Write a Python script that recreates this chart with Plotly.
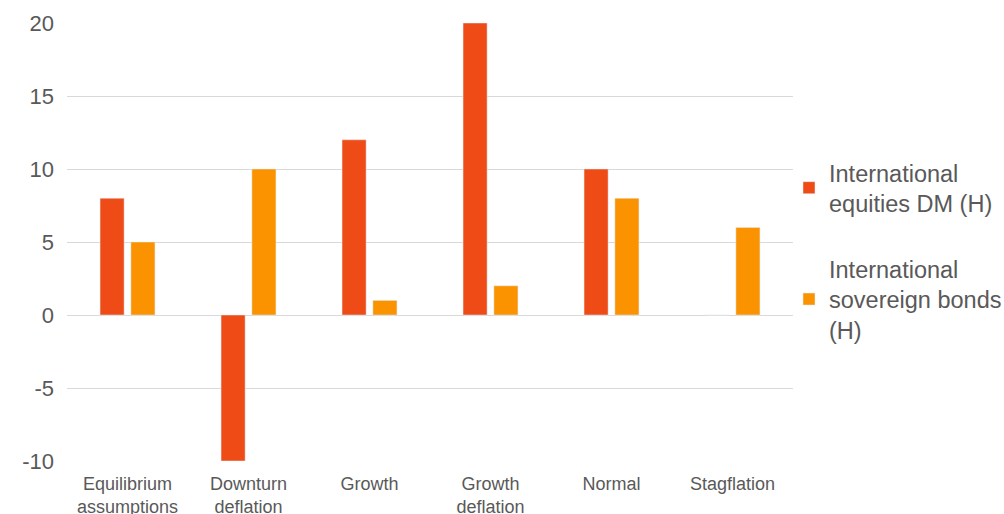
import plotly.graph_objects as go

categories = ["Equilibrium<br>assumptions", "Downturn<br>deflation", "Growth", "Growth<br>deflation", "Normal", "Stagflation"]
equities = [8, -10, 12, 20, 10, 0]
bonds = [5, 10, 1, 2, 8, 6]
series_names = ["International<br>equities DM (H)", "International<br>sovereign bonds<br>(H)"]
colors = ["#EE4B17", "#FB9300"]
y_ticks = [-10, -5, 0, 5, 10, 15, 20]
y_tick_text = ["-10", "-5", "0", "5", "10", "15", "20"]

fig = go.Figure()
fig.add_trace(go.Bar(x=categories, y=equities, name=series_names[0], marker_color=colors[0], legendgroup="a"))
fig.add_trace(go.Bar(x=categories, y=bonds, name=series_names[1], marker_color=colors[1], legendgroup="b"))

fig.update_layout(
    width=1004, height=514,
    margin=dict(l=67, r=211, t=23, b=53, autoexpand=False),
    paper_bgcolor="white", plot_bgcolor="white",
    barmode="group", bargap=0.49, bargroupgap=0.22,
    font=dict(family="Liberation Sans", color="#595959"),
    xaxis=dict(showgrid=False, showline=False, ticks="", tickfont=dict(size=18), ticklabelstandoff=10,
               automargin=False),
    yaxis=dict(range=[-10, 20], tickvals=y_ticks, ticktext=y_tick_text, showgrid=True, gridcolor="#D9D9D9",
               gridwidth=1, zeroline=False, showline=False, ticks="", tickfont=dict(size=22),
               ticklabelstandoff=12, automargin=False),
    legend=dict(x=(789 - 67) / (1004 - 67 - 211), xanchor="left", y=0.7086, yanchor="top",
                font=dict(size=23.5), tracegroupgap=32, itemwidth=30, bgcolor="rgba(0,0,0,0)"),
    showlegend=True,
)
fig.write_html("out.html")
